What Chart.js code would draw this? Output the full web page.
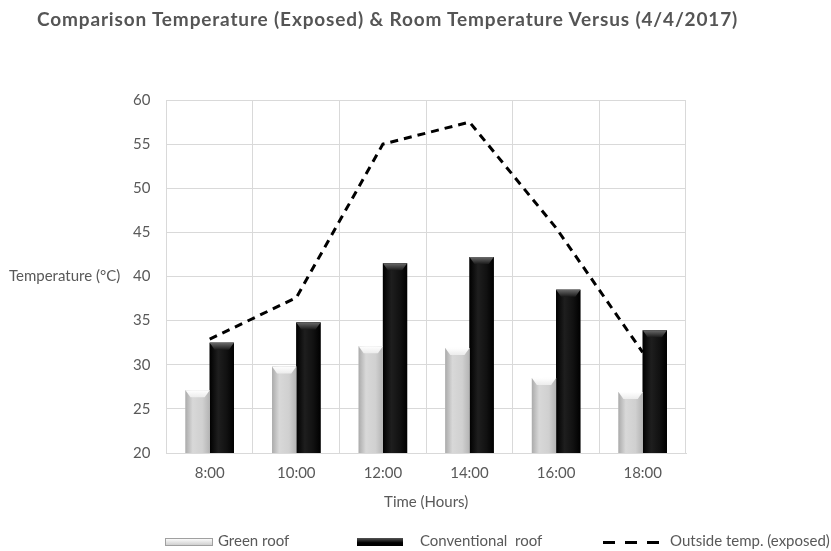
<!DOCTYPE html>
<html>
<head>
<meta charset="utf-8">
<script src="https://cdn.jsdelivr.net/npm/chart.js@4.4.1/dist/chart.umd.min.js"></script>
<style>
  html, body { margin: 0; padding: 0; background: #fff; }
  #wrap { position: relative; width: 831px; height: 551px; font-family: Lato, "Open Sans", sans-serif; color: #595959; }
  #chart { position: absolute; left: 0; top: 0; }
  #title { position: absolute; left: 37px; top: 7px; font-size: 19px; letter-spacing: 0.85px; font-weight: bold; color: #555; white-space: nowrap; }
  #ylabel { position: absolute; left: 9px; top: 266px; font-size: 15px; white-space: nowrap; }
  .leg { position: absolute; top: 531px; font-size: 15px; white-space: pre; }
  .sym { position: absolute; top: 538px; height: 8px; box-sizing: border-box; }
</style>
</head>
<body>
<div id="wrap">
  <canvas id="chart" width="831" height="551"></canvas>
  <div id="title">Comparison Temperature (Exposed) &amp; Room Temperature Versus (4/4/2017)</div>
  <div id="ylabel">Temperature (°C)</div>
  <div id="legend"></div>
</div>
<script>
// data
const hours = ['8:00', '10:00', '12:00', '14:00', '16:00', '18:00'];
const greenRoof = [27.1, 29.8, 32.1, 31.9, 28.5, 26.9];
const conventionalRoof = [32.5, 34.8, 41.5, 42.2, 38.5, 33.9];
const outsideTemp = [32.9, 37.6, 55.0, 57.5, 45.5, 31.4];

const seriesNames = ['Green roof', 'Conventional  roof', 'Outside temp. (exposed)'];

// shade each bar so it looks like the bevelled excel bars
const bevelPlugin = {
  id: 'bevel',
  afterDatasetDraw(chart, args) {
    if (args.meta.type !== 'bar') return;
    const ctx = chart.ctx;
    const area = chart.chartArea;
    const dark = args.index === 1;
    ctx.save();
    ctx.beginPath();
    ctx.rect(area.left, area.top, area.right - area.left, area.bottom - area.top);
    ctx.clip();
    args.meta.data.forEach(bar => {
      const w = bar.width, left = bar.x - w / 2, right = bar.x + w / 2;
      const top = bar.y, bottom = Math.min(bar.base, area.bottom);
      const g = ctx.createLinearGradient(left, 0, right, 0);
      if (dark) {
        g.addColorStop(0, '#000'); g.addColorStop(0.35, '#1e1e1e');
        g.addColorStop(0.7, '#111'); g.addColorStop(1, '#000');
      } else {
        g.addColorStop(0, '#ababab'); g.addColorStop(0.3, '#d8d8d8');
        g.addColorStop(0.7, '#d0d0d0'); g.addColorStop(1, '#b4b4b4');
      }
      ctx.fillStyle = g;
      ctx.fillRect(left, top, w, bottom - top);
      // top cap
      const cap = ctx.createLinearGradient(0, top, 0, top + 7);
      cap.addColorStop(0, dark ? '#6a6a6a' : '#ffffff');
      cap.addColorStop(1, dark ? '#1a1a1a' : '#ececec');
      ctx.fillStyle = cap;
      ctx.beginPath();
      ctx.moveTo(left, top); ctx.lineTo(right, top);
      ctx.lineTo(right - 5, top + 7); ctx.lineTo(left + 5, top + 7);
      ctx.closePath(); ctx.fill();
    });
    ctx.restore();
  }
};

const chart = new Chart(document.getElementById('chart'), {
  data: {
    labels: hours,
    datasets: [
      { type: 'bar', label: seriesNames[0], data: greenRoof, backgroundColor: '#c8c8c8', order: 1,
        categoryPercentage: 0.56, barPercentage: 1 },
      { type: 'bar', label: seriesNames[1], data: conventionalRoof, backgroundColor: '#0a0a0a', order: 1,
        categoryPercentage: 0.56, barPercentage: 1 },
      { type: 'line', label: seriesNames[2], data: outsideTemp, borderColor: '#000', borderWidth: 3,
        borderDash: [8, 6], pointRadius: 0, tension: 0, fill: false, order: 0 }
    ]
  },
  options: {
    responsive: false,
    animation: false,
    layout: { padding: { left: 117, right: 145, top: 100, bottom: 40 } },
    plugins: { legend: { display: false }, tooltip: { enabled: false } },
    scales: {
      x: {
        grid: { color: '#d9d9d9', drawTicks: false },
        border: { color: '#d9d9d9' },
        ticks: { color: '#595959', font: { family: 'Lato', size: 15 }, padding: 11 },
        title: { display: true, text: 'Time (Hours)', color: '#595959',
                 font: { family: 'Lato', size: 15 }, padding: { top: 0, bottom: 0 } }
      },
      y: {
        min: 20, max: 60,
        grid: { color: '#d9d9d9', drawTicks: false },
        border: { color: '#d9d9d9' },
        ticks: { stepSize: 5, color: '#595959', font: { family: 'Lato', size: 15 }, padding: 16 }
      }
    }
  },
  plugins: [bevelPlugin]
});

// legend below the plot
const legend = document.getElementById('legend');
legend.innerHTML =
  '<div class="sym" style="left:165px;width:48px;background:linear-gradient(#fafafa,#d0d0d0);border:1px solid #a0a0a0"></div>' +
  '<div class="leg" style="left:218px">' + seriesNames[0] + '</div>' +
  '<div class="sym" style="left:357px;width:46px;background:linear-gradient(#555,#000 60%)"></div>' +
  '<div class="leg" style="left:420px">' + seriesNames[1] + '</div>' +
  '<div class="sym" style="left:603px;width:57px;height:3px;top:541px;background:repeating-linear-gradient(90deg,#000 0 12px,transparent 12px 22px)"></div>' +
  '<div class="leg" style="left:670px">' + seriesNames[2] + '</div>';
</script>
</body>
</html>
